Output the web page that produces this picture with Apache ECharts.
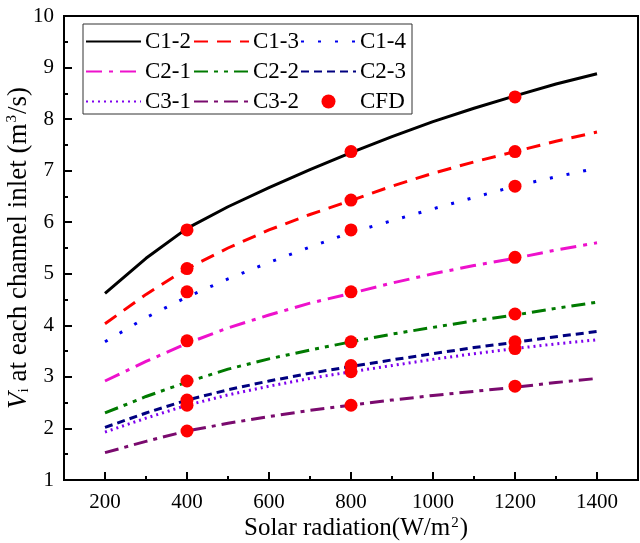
<!DOCTYPE html>
<html><head><meta charset="utf-8">
<script src="https://cdn.jsdelivr.net/npm/echarts@6/dist/echarts.min.js"></script>
<style>html,body{margin:0;padding:0;background:#fff}#c{width:640px;height:543px}</style>
</head><body><div id="c"></div>
<script>
const xValues = [200,300,400,500,600,700,800,900,1000,1100,1200,1300,1400];
const C1_2 = [4.62,5.30,5.88,6.30,6.67,7.02,7.35,7.66,7.95,8.21,8.45,8.68,8.88];
const C1_3 = [4.03,4.60,5.10,5.50,5.85,6.15,6.42,6.70,6.95,7.17,7.37,7.57,7.75];
const C1_4 = [3.68,4.15,4.55,4.90,5.22,5.52,5.80,6.03,6.26,6.48,6.70,6.88,7.05];
const C2_1 = [2.92,3.30,3.65,3.95,4.20,4.43,4.62,4.82,5.00,5.16,5.30,5.46,5.60];
const C2_2 = [2.30,2.62,2.90,3.15,3.35,3.52,3.68,3.83,3.96,4.09,4.20,4.33,4.45];
const C2_3 = [2.02,2.30,2.55,2.75,2.92,3.07,3.20,3.33,3.45,3.57,3.67,3.78,3.88];
const C3_1 = [1.93,2.20,2.45,2.65,2.82,2.97,3.10,3.22,3.34,3.45,3.55,3.64,3.72];
const C3_2 = [1.53,1.75,1.95,2.10,2.23,2.35,2.45,2.55,2.64,2.72,2.80,2.89,2.97];
const cfdX = [400,400,400,400,400,400,400,400,800,800,800,800,800,800,800,800,1200,1200,1200,1200,1200,1200,1200,1200];
const cfdY = [5.85,5.10,4.65,3.70,2.92,2.55,2.45,1.95, 7.37,6.43,5.85,4.65,3.68,3.22,3.10,2.45, 8.43,7.37,6.70,5.32,4.22,3.68,3.55,2.82];
const xLabelValues = [200,400,600,800,1000,1200,1400];
const xMinorTicks = [300,500,700,900,1100,1300];

const font = '"Liberation Serif","Times New Roman",serif';
const lineDefs = [
  ['C1-2', C1_2, '#000000', 'solid'],
  ['C1-3', C1_3, '#ff0000', [14,9]],
  ['C1-4', C1_4, '#0000ee', [3,14]],
  ['C2-1', C2_1, '#ee11cc', [16,7,4,7]],
  ['C2-2', C2_2, '#007a00', [14,6,4,6,4,6]],
  ['C2-3', C2_3, '#000080', [8,5]],
  ['C3-1', C3_1, '#7f00ee', [2,4]],
  ['C3-2', C3_2, '#7a0a6e', [14,6,4,6]]
];
const series = lineDefs.map(d => ({
  name: d[0], type: 'line', xAxisIndex: 0, yAxisIndex: 0,
  data: xValues.map((x,i) => [x, d[1][i]]),
  showSymbol: false, symbol: 'none', smooth: false,
  lineStyle: {color: d[2], width: 3, type: d[3]},
  itemStyle: {color: d[2]}, z: 2
}));
series.push({
  name: 'CFD', type: 'scatter', xAxisIndex: 0, yAxisIndex: 0,
  data: cfdX.map((x,i) => [x, cfdY[i]]),
  symbol: 'circle', symbolSize: 13, itemStyle: {color: '#ff0000', opacity: 1}, z: 5
});
function legendData(names) {
  return names.map(n => n === 'CFD'
    ? {name: n, itemStyle: {opacity: 1, color: '#ff0000'}}
    : {name: n, itemStyle: {opacity: 0}});
}
const legendCommon = {
  orient: 'vertical', itemWidth: 55, itemHeight: 14, itemGap: 7, padding: 0,
  textStyle: {fontFamily: font, fontSize: 23, color: '#000', padding: [0,0,0,-1]}
};
const chart = echarts.init(document.getElementById('c'), null, {renderer: 'canvas'});
chart.setOption({
  animation: false,
  backgroundColor: '#fff',
  grid: {left: 64, right: 2, top: 16, bottom: 63, show: true, borderColor: '#000', borderWidth: 2,
         outerBoundsMode: 'none', containLabel: false},
  legend: [
    Object.assign({}, legendCommon, {left: 85, top: 30, data: legendData(['C1-2','C2-1','C3-1'])}),
    Object.assign({}, legendCommon, {left: 193, top: 30, data: legendData(['C1-3','C2-2','C3-2'])}),
    Object.assign({}, legendCommon, {left: 300, top: 30, data: legendData(['C1-4','C2-3','CFD'])})
  ],
  graphic: [{type: 'rect', shape: {x: 83, y: 24, width: 329, height: 90}, style: {fill: 'none', stroke: '#333', lineWidth: 1}, z: 10}],
  xAxis: [{
    type: 'value', min: 100, max: 1500, interval: 100,
    name: '{n|Solar radiation(W/m}{sup|2}{n|)}', nameLocation: 'middle', nameGap: 36, nameMoveOverlap: false,
    nameTextStyle: {fontFamily: font, fontSize: 25, color: '#000', padding: [0,0,0,10],
      rich: {
        n: {fontFamily: font, fontSize: 25, color: '#000'},
        sup: {fontFamily: font, fontSize: 15, color: '#000', verticalAlign: 'top', padding: [0,1,0,1]}
      }},
    axisLine: {lineStyle: {color: '#000', width: 2}},
    axisTick: {inside: true, length: 8, customValues: xLabelValues, lineStyle: {color: '#000', width: 2}},
    axisLabel: {customValues: xLabelValues, formatter: v => String(v), fontFamily: font, fontSize: 21, color: '#000', margin: 12},
    splitLine: {show: false}
  }, {
    type: 'value', min: 100, max: 1500, interval: 100, position: 'bottom',
    axisLine: {show: false},
    axisTick: {inside: true, length: 4, customValues: xMinorTicks, lineStyle: {color: '#000', width: 2}},
    axisLabel: {show: false}, splitLine: {show: false}
  }],
  yAxis: {
    type: 'value', min: 1, max: 10, interval: 1,
    name: '{it|V}{sub|i}{n| at each channel inlet (m}{sup|3}{n|/s)}', nameLocation: 'middle', nameGap: 32, nameMoveOverlap: false,
    nameTextStyle: {fontFamily: font, fontSize: 27, color: '#000',
      rich: {
        it: {fontFamily: font, fontSize: 27, fontStyle: 'italic', color: '#000'},
        sub: {fontFamily: font, fontSize: 15, color: '#000', verticalAlign: 'bottom', padding: [10,0,0,0]},
        n: {fontFamily: font, fontSize: 27, color: '#000'},
        sup: {fontFamily: font, fontSize: 15, color: '#000', verticalAlign: 'top', padding: [0,1,0,1]}
      }},
    axisLine: {lineStyle: {color: '#000', width: 2}},
    axisTick: {inside: true, length: 8, lineStyle: {color: '#000', width: 2}},
    minorTick: {show: true, splitNumber: 2, length: 4, lineStyle: {color: '#000', width: 2}},
    axisLabel: {fontFamily: font, fontSize: 21, color: '#000', margin: 10},
    splitLine: {show: false}, minorSplitLine: {show: false}
  },
  series: series
});
</script></body></html>
